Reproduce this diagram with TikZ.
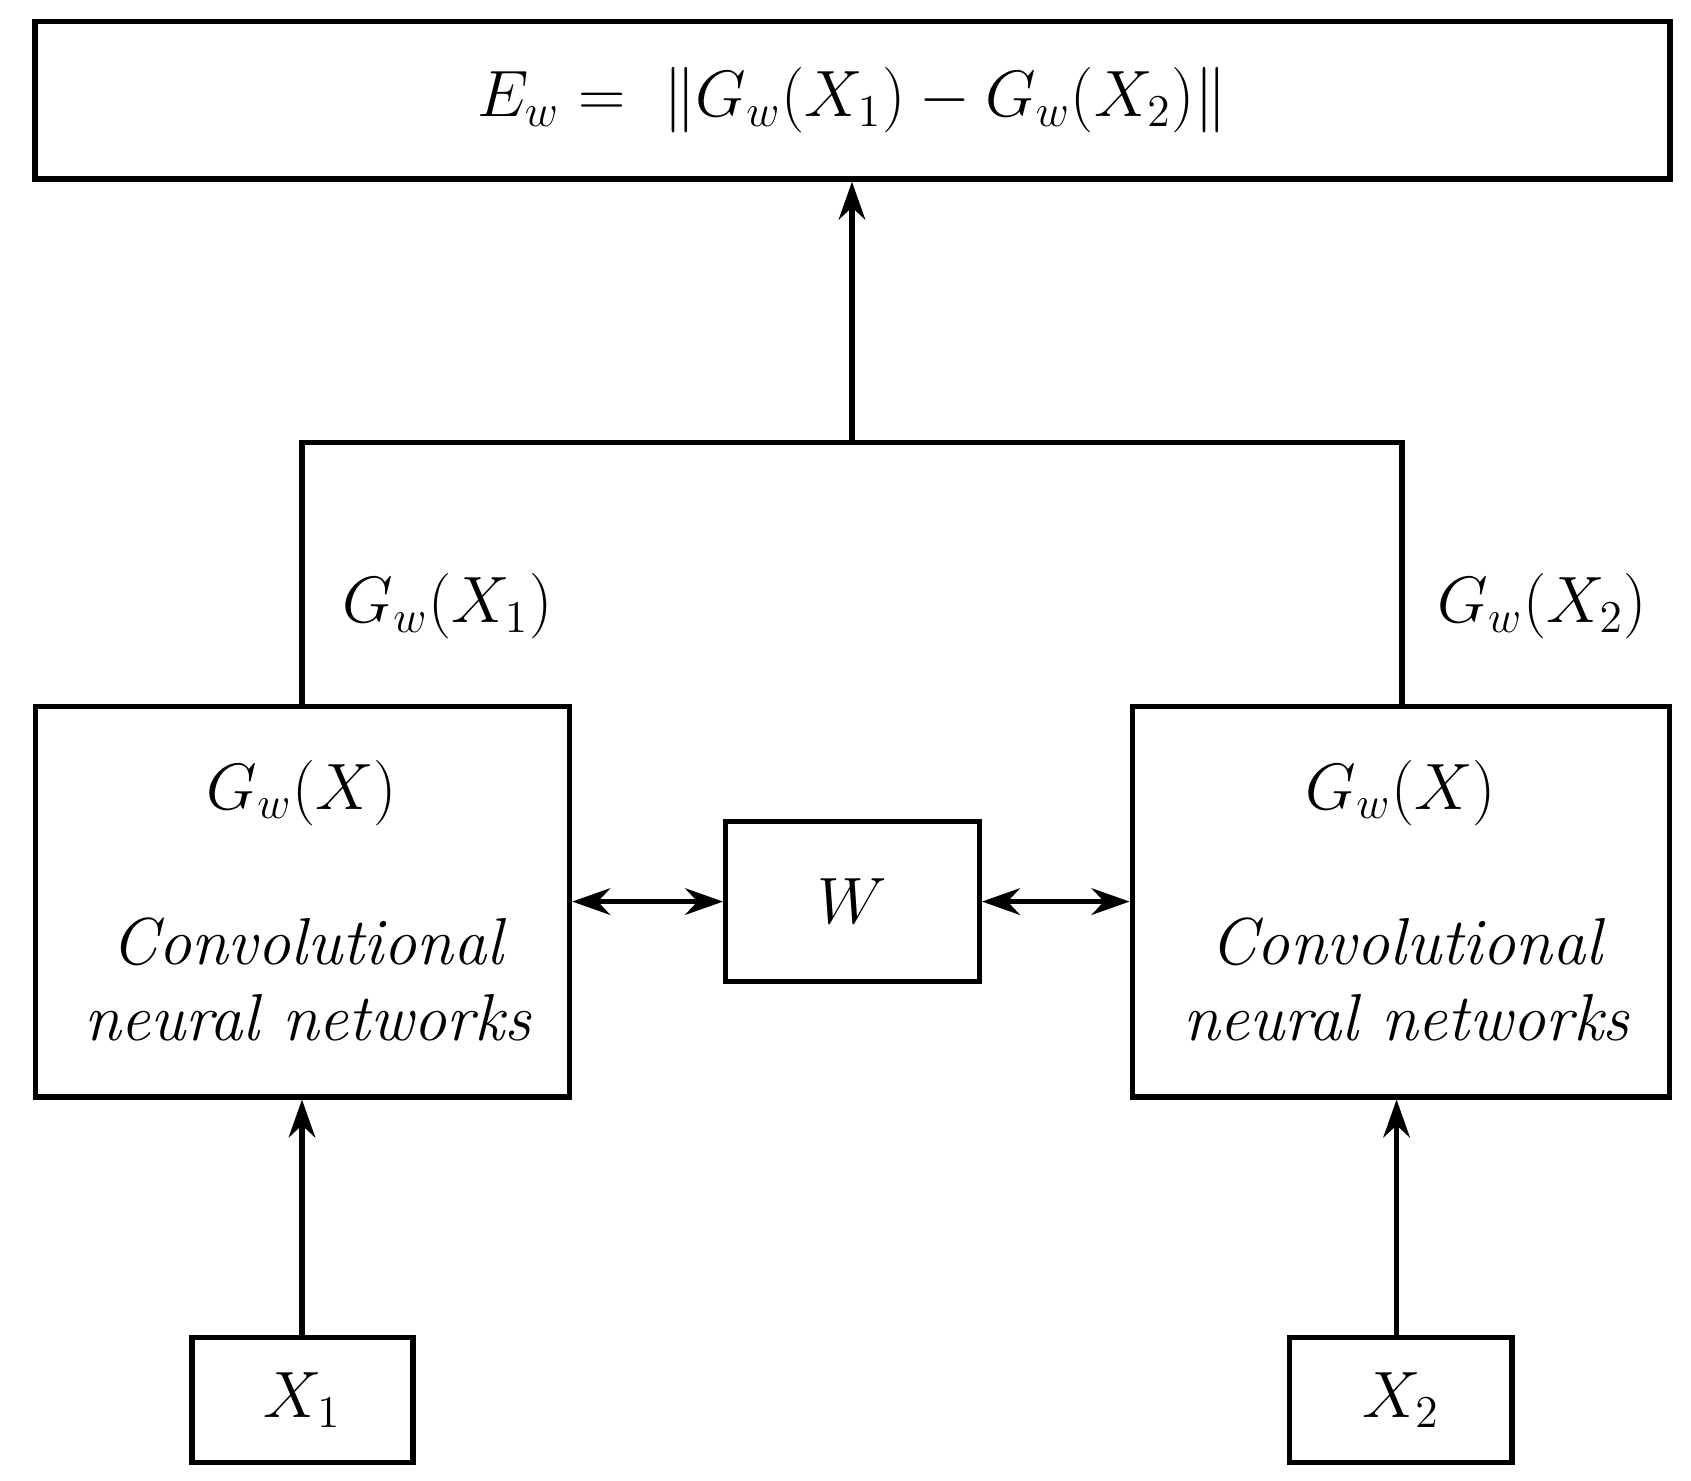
\documentclass[tikz,border=0pt]{standalone}
\usetikzlibrary{arrows.meta}
\begin{document}
\begin{tikzpicture}[x=0.01cm,y=-0.01cm,
  box/.style={draw,line width=1.4pt,inner sep=0pt},
  arr/.style={line width=1.4pt,-{Stealth[length=10pt,width=7pt]}},
  darr/.style={line width=1.4pt,{Stealth[length=10pt,width=7pt]}-{Stealth[length=10pt,width=7pt]}},
  ln/.style={line width=1.4pt},
  font=\fontsize{17}{24}\selectfont]
\useasboundingbox (0,0) rectangle (1568,1373);
\node[box,minimum width=15.15cm,minimum height=1.46cm] (top) at (790.5,93) {$E_w =\ \|G_w(X_1)-G_w(X_2)\|$};
\node[box,minimum width=4.95cm,minimum height=3.62cm] (L) at (280.5,836) {};
\node[box,minimum width=4.98cm,minimum height=3.62cm] (R) at (1299,836) {};
\node[box,minimum width=2.35cm,minimum height=1.48cm] (W) at (790.5,836) {$W$};
\node[box,minimum width=2.05cm,minimum height=1.16cm] (x1) at (280.5,1298) {$X_1$};
\node[box,minimum width=2.06cm,minimum height=1.16cm] (x2) at (1299,1298) {$X_2$};
\node (gl) at (280,735) {$G_w(X)$};
\node (gr) at (1299,735) {$G_w(X)$};
\node[align=center,font=\fontsize{17.5}{20}\selectfont\itshape] (tl) at (285,908) {Convolutional\\neural networks};
\node[align=center,font=\fontsize{17.5}{20}\selectfont\itshape] (tr) at (1304,908) {Convolutional\\neural networks};
\node (l1) at (415,562) {$G_w(X_1)$};
\node (l2) at (1430,562) {$G_w(X_2)$};
\coordinate (j) at (790,410);
\coordinate (jl) at (280,410);
\coordinate (jr) at (1300,410);
\draw[ln] (L.north -| jl) -- (jl) -- (jr) -- (R.north -| jr);
\draw[arr] (j) -- (top.south -| j);
\draw[darr] (L.east) -- (W.west);
\draw[darr] (W.east) -- (R.west);
\draw[arr] (x1.north -| 280,0) -- (L.south -| 280,0);
\draw[arr] (x2.north -| 1295,0) -- (R.south -| 1295,0);
\end{tikzpicture}
\end{document}
